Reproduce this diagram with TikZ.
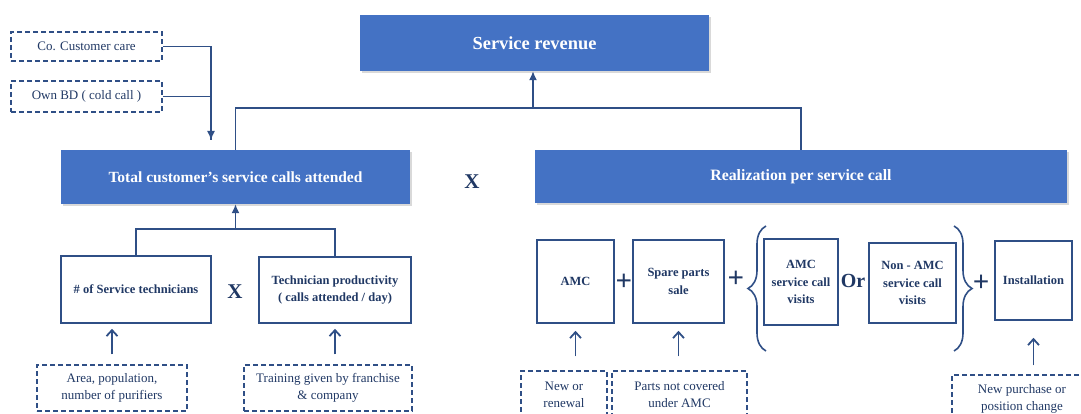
\documentclass[tikz,border=0pt]{standalone}
\usepackage{fontspec}
\setmainfont{Liberation Serif}
\usepackage{tikz}
\usetikzlibrary{arrows.meta}
\usetikzlibrary{decorations.pathreplacing}
\usetikzlibrary{shadows}

\definecolor{boxblue}{HTML}{4472C4}
\definecolor{navyline}{HTML}{2F4F86}
\definecolor{navytext}{HTML}{203864}
\newcommand\setfs[2]{\fontsize{#1}{#2}\selectfont}

\tikzset{
  bluebox/.style={fill=boxblue, text=white, inner sep=0pt,
    drop shadow={shadow xshift=1.5pt, shadow yshift=-2pt, opacity=.3}},
  linebox/.style={draw=navyline, line width=1.6pt, text=navytext, align=center,
    inner sep=0pt, font=\setfs{12.5}{17.5}\bfseries},
  dashbox/.style={draw=navyline, line width=1.5pt, dash pattern=on 5pt off 3pt,
    text=navytext, align=center, inner sep=0pt, font=\setfs{13}{17}},
  link/.style={draw=navyline, line width=1.5pt},
  uparrow/.style={draw=navyline, line width=1.8pt,
    -{Straight Barb[length=6pt,width=11pt]}, shorten <=10pt, shorten >=5pt},
  sign/.style={text=navytext, inner sep=0pt},
  bracket/.style={draw=navyline, line width=1.6pt, decorate,
    decoration={brace, amplitude=18pt}},
}

\begin{document}
\begin{tikzpicture}[x=1pt,y=-1pt]
\path[use as bounding box, clip] (0,0) rectangle (1081,414);

% top row
\path
 (534.5,43)  node [bluebox, minimum width=349pt, minimum height=56pt,
              font=\setfs{18.4}{22}\bfseries] (rev)  {Service revenue}
 (235.5,177) node [bluebox, minimum width=349pt, minimum height=54pt,
              font=\setfs{15.5}{18}\bfseries] (calls) {Total customer’s service calls attended}
 (801,176.5) node [bluebox, minimum width=532pt, minimum height=53pt,
              font=\setfs{15.8}{18}\bfseries] (real) {Realization per service call}
 (86.5,46.5) node [dashbox, minimum width=151pt, minimum height=29pt] (co)  {Co. Customer care}
 (86.5,96.5) node [dashbox, minimum width=151pt, minimum height=31pt] (own) {Own BD ( cold call )}
 (472,182)   node [sign, font=\setfs{21}{22}\bfseries] (times1) {X}
;

% left branch
\path
 (136,289.5) node [linebox, minimum width=150pt, minimum height=67pt] (tech) {\# of Service technicians}
 (335,290)   node [linebox, minimum width=152pt, minimum height=66pt] (prod) {Technician productivity\\( calls attended / day)}
 (235,292)   node [sign, font=\setfs{21}{22}\bfseries] (times2) {X}
 (112,388)   node [dashbox, minimum width=150pt, minimum height=46pt] (area) {Area, population,\\number of purifiers}
 (328,388)   node [dashbox, minimum width=168pt, minimum height=46pt] (train) {Training given by franchise\\\& company}
;

% right branch
\path
 (575.5,281.5) node [linebox, minimum width=77pt, minimum height=83pt] (amc)   {AMC}
 (678.5,281.5) node [linebox, minimum width=91pt, minimum height=83pt] (spare) {Spare parts\\sale}
 (801,282)     node [linebox, minimum width=74pt, minimum height=86pt] (amcv)  {AMC\\service call\\visits}
 (912.5,283)   node [linebox, minimum width=87pt, minimum height=80pt] (namc)  {Non - AMC\\service call\\visits}
 (1033.5,280.5) node [linebox, minimum width=77pt, minimum height=79pt] (inst) {Installation}
 (624,282)  node [sign, font=\setfs{29}{29}\bfseries] (plus1) {+}
 (736,279)  node [sign, font=\setfs{29}{29}\bfseries] (plus2) {+}
 (981,283)  node [sign, font=\setfs{29}{29}\bfseries] (plus3) {+}
 (853,281)  node [sign, font=\setfs{20}{22}\bfseries] (orsign) {Or}
 (564,395)    node [dashbox, minimum width=86pt, minimum height=48pt]  (renew) {New or\\renewal}
 (679.5,395)  node [dashbox, minimum width=135pt, minimum height=48pt] (parts) {Parts not covered\\under AMC}
 (1022,398.5) node [dashbox, minimum width=140pt, minimum height=47pt] (newp)  {New purchase or\\position change}
;

\coordinate (topj)   at (533,108);
\coordinate (feedin) at (211,140);
\coordinate (botj)   at (235.5,229);

\draw[link] (calls.north) |- (topj) -| (real.north);
\draw[link, -{Latex[length=9pt,width=8pt]}] (topj) -- (topj |- rev.south);
\draw[link] (co.east) -| (feedin);
\draw[link, -{Latex[length=9pt,width=8pt]}] (own.east) -| (feedin);
\draw[link] (tech.north) |- (botj) -| (prod.north);
\draw[link, -{Latex[length=9pt,width=8pt]}] (botj) -- (calls.south);

\draw[uparrow] (area.north) -- (area.north |- tech.south);
\draw[uparrow] (train.north -| prod.south) -- (prod.south);
\draw[uparrow, shorten <=14pt, shorten >=7pt] (renew.north -| amc.south) -- (amc.south);
\draw[uparrow, shorten <=14pt, shorten >=7pt] (parts.north -| spare.south) -- (spare.south);
\draw[uparrow, shorten <=9pt, shorten >=17pt] (newp.north -| inst.south) -- (inst.south);

\draw[bracket] (766,351) -- (766,226);
\draw[bracket] (954,226) -- (954,351);
\end{tikzpicture}
\end{document}
